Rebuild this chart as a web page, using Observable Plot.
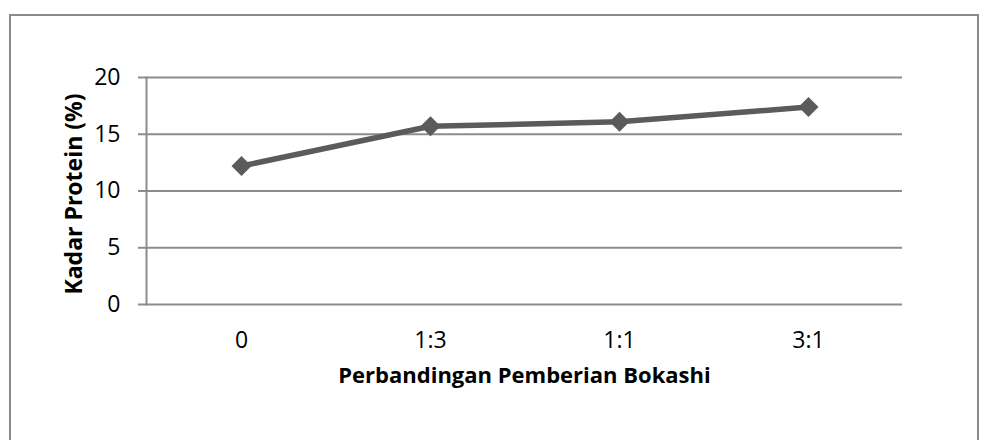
<!DOCTYPE html>
<html>
<head>
<meta charset="utf-8">
<script src="https://cdn.jsdelivr.net/npm/d3@7"></script>
<script src="https://cdn.jsdelivr.net/npm/@observablehq/plot@0.6"></script>
<style>
  html, body { margin: 0; padding: 0; background: #fff; overflow: hidden; }
  #wrap { position: relative; width: 988px; height: 440px; }
  #border { position: absolute; left: 9px; top: 14px; width: 970px; height: 460px; border: 2px solid #8a8a8a; box-sizing: border-box; pointer-events: none; }
  #chart { position: absolute; left: 0; top: 0; }
</style>
</head>
<body>
<div id="wrap">
  <div id="chart"></div>
  <div id="border"></div>
</div>
<script>
const categories = ["0", "1:3", "1:1", "3:1"];
const protein = [12.2, 15.7, 16.1, 17.4];
const yTicks = [0, 5, 10, 15, 20];
const xTitle = "Perbandingan Pemberian Bokashi";
const yTitle = "Kadar Protein (%)";

const data = categories.map((c, i) => ({ c, v: protein[i] }));

const lineColor = "#5b5b5b";
const gridColor = "#8c8c8c";

const chart = Plot.plot({
  width: 988,
  height: 440,
  marginLeft: 146,
  marginRight: 86,
  marginTop: 77,
  marginBottom: 136,
  style: { fontFamily: "'Open Sans', sans-serif", fontSize: "23px", color: "#000", background: "transparent" },
  x: { type: "point", domain: categories, padding: 0.5 },
  y: { domain: [0, 20] },
  marks: [
    Plot.gridY(yTicks, { stroke: gridColor, strokeWidth: 2, strokeOpacity: 1 }),
    Plot.frame({ anchor: "left", stroke: gridColor, strokeWidth: 2 }),
    Plot.axisY(yTicks, { tickSize: 8, tickPadding: 18, stroke: gridColor, strokeWidth: 2, label: null, fontSize: 23, fill: "#000" }),
    Plot.axisX({ tickSize: 0, tickPadding: 27, label: null, fontSize: 23, fill: "#000" }),
    Plot.line(data, { x: "c", y: "v", stroke: lineColor, strokeWidth: 5.5 }),
    Plot.dot(data, { x: "c", y: "v", symbol: "diamond2", r: 9, fill: lineColor, stroke: "none" }),
    Plot.text([yTitle], { frameAnchor: "left", textAnchor: "middle", dx: -72, dy: 3, rotate: -90, fontWeight: "bold", fontSize: 23, fontFamily: "'Open Sans', sans-serif", fill: "#000" }),
    Plot.text([xTitle], { frameAnchor: "bottom", dy: 78, fontWeight: "bold", fontSize: 22, fontFamily: "'Open Sans', sans-serif", fill: "#000" })
  ]
});
document.getElementById("chart").appendChild(chart);
</script>
</body>
</html>
